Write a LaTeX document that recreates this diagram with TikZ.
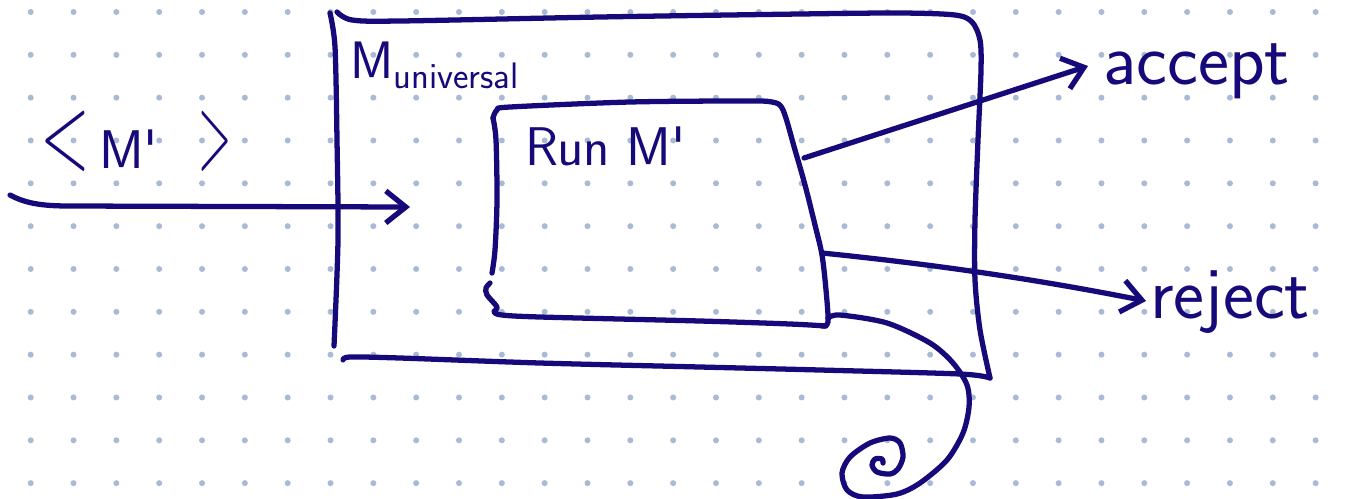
\documentclass[tikz,border=0pt]{standalone}
\usepackage{fontspec}
\usetikzlibrary{arrows.meta}

\definecolor{inkblue}{RGB}{22,10,122}
\definecolor{gridblue}{RGB}{168,186,212}

\begin{document}
\begin{tikzpicture}[x=0.02cm, y=-0.02cm,
    pen/.style={draw=inkblue, line width=3pt, line cap=round, line join=round},
    arr/.style={pen, -{Straight Barb[length=4mm, width=6.4mm]}},
    dot/.style={fill=gridblue},
    lbl/.style={text=inkblue, inner sep=0pt, anchor=base west},
    big/.style={font=\sffamily\fontsize{42}{50}\selectfont},
    mid/.style={font=\sffamily\fontsize{31}{37}\selectfont}
]
    % Paper
    \fill[white] (0,0) rectangle (1351,498);
    \useasboundingbox (0,0) rectangle (1351,498);
    \foreach \i in {0,...,30} {
        \foreach \j in {0,...,11} {
            \fill[dot] (30.7+42.83*\i, 12+42.83*\j) circle (3);
        }
    }

    % Ends of the connectors
    \coordinate (infrom) at (10,195);
    \coordinate (into) at (410,207);
    \coordinate (accfrom) at (804,158);
    \coordinate (accto) at (1088,66);
    \coordinate (rejfrom) at (822,253);
    \coordinate (rejto) at (1146,301);
    \coordinate (loopfrom) at (828,318);

    % Outer box (M universal)
    \draw[pen] plot[smooth] coordinates {(330,13) (335,47) (337,140) (338,240) (334,346)};
    \draw[pen] plot[smooth] coordinates {(337,12) (352,20) (400,21) (600,17) (800,14)
        (900,13) (955,15) (972,22) (980,40) (981,70) (978,140) (975,220) (975,280)
        (980,330) (990,378)};
    \draw[pen] plot[smooth] coordinates {(343,360) (350,357) (400,358) (540,363)
        (700,367) (820,370) (960,374) (990,378)};

    % Inner box (Run M')
    \draw[pen] plot[smooth] coordinates {(493,118) (497,110) (510,107) (630,102)
        (740,101) (772,102) (783,110) (795,150) (805,185) (815,225) (822,255)
        (826,290) (828,322) (822,326)};
    \draw[pen] plot[smooth] coordinates {(493,118) (496,140) (497,200) (495,250) (492,273)};
    \draw[pen] plot[smooth] coordinates {(490,283) (486,288) (487,295) (497,307)
        (494,312) (502,315) (540,317) (700,321) (790,324) (826,326)};

    % Labels
    \node[lbl, font=\sffamily\fontsize{31}{36}\selectfont] (inlbl) at (40,168)
        {\scalebox{1.2}[2.0]{<}\,M\textquotesingle\hspace{0.75em}\scalebox{0.8}[2.0]{>}};
    \node[lbl, font=\sffamily\fontsize{30}{36}\selectfont] (univlbl) at (350,78)
        {M\raisebox{-6pt}{\fontsize{21}{25}\selectfont universal}};
    \node[lbl, mid] (runlbl) at (525,165) {Run M\textquotesingle};
    \node[lbl, big] (acclbl) at (1103,84) {accept};
    \node[lbl, big] (rejlbl) at (1150,318) {reject};

    % Connectors
    \draw[arr] (infrom) .. controls (25,203) and (40,206) .. (70,206) -- (into);
    \draw[arr] (accfrom) -- (accto);
    \draw[arr] (rejfrom) .. controls (950,266) and (1050,282) .. (rejto);

    % Loop that never halts
    \draw[pen] plot[smooth] coordinates {(loopfrom) (840,315) (887,323) (930,343)
        (953,363) (967,385) (969,407) (963,433) (947,460) (920,483) (897,494)
        (863,497) (847,490) (842,473) (850,457) (870,443) (890,438) (900,443)
        (903,457) (898,469) (890,474) (877,472) (872,465) (875,459) (882,459)
        (883,463)};
\end{tikzpicture}
\end{document}
